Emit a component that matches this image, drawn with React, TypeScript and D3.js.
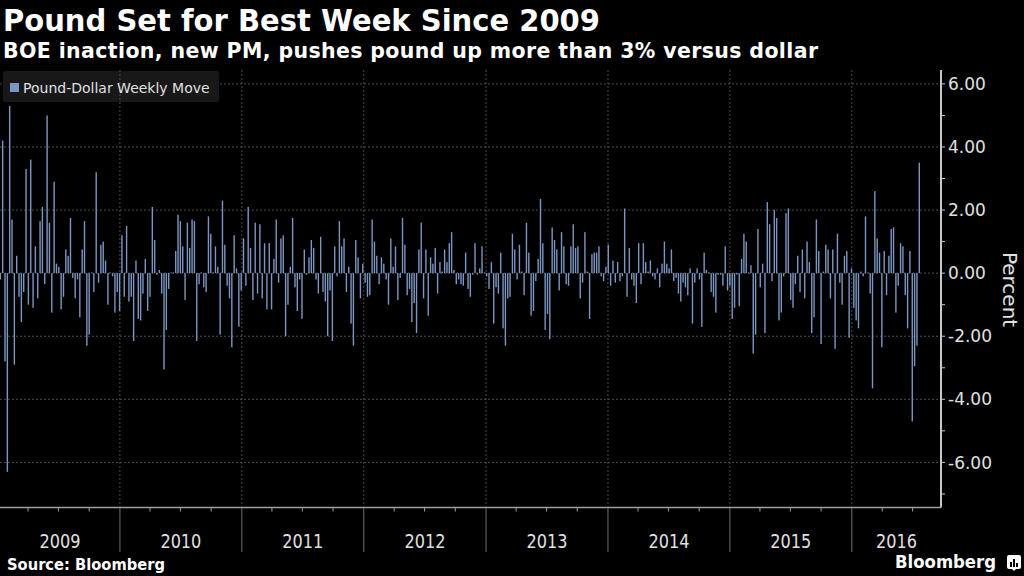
import * as d3 from "d3";

const TITLE = "Pound Set for Best Week Since 2009";
const SUBTITLE = "BOE inaction, new PM, pushes pound up more than 3% versus dollar";
const SERIES_NAME = "Pound-Dollar Weekly Move";
const SOURCE = "Source: Bloomberg";
const AXIS_TITLE = "Percent";

// weekly % move of GBP/USD, one value per Friday, starting Fri 2 Jan 2009
const moves2009 = [
  -0.2, 4.2, -2.8, -6.3, 5.3, 1.7, -2.9, 0.55, -0.75, -1.55,
  -0.6, 3.3, -1.0, 3.6, -1.1, 0.85, -0.8, 1.65, 2.1, -0.35,
  5.0, 1.6, -1.25, 2.9, 0.3, 0.2, -1.15, -0.75, 0.75, 0.55,
  1.75, -0.15, -0.8, -0.2, -1.4, 0.75, 1.65, -2.3, -1.95, 0.02,
  -0.6, 3.2, -0.3, 0.9, 1.0, 0.4, -1.0, 0.02, -0.1, -1.25,
  -0.6, -1.2,
];
const moves2010 = [
  1.2, -0.75, 1.5, -0.9, -0.75, -2.15, 0.4, -1.45, -1.5, -0.65,
  0.45, -1.2, -0.75, 2.1, 1.05, -0.05, 0.1, -0.65, -3.05, -1.8,
  -0.5, 0.02, 0.02, 0.7, 1.85, 1.65, 0.85, -0.85, 1.6, 0.8,
  1.7, 1.65, -2.15, -0.35, 0.02, -0.45, -0.6, 1.8, 1.25, 0.02,
  0.85, 0.2, -1.95, 2.3, 0.9, -0.4, -0.8, -2.35, 1.2, 0.15,
  -1.7, -0.55, 1.1,
];
const moves2011 = [
  -0.4, 2.1, 0.8, -0.85, 1.6, -0.65, 1.55, -0.8, 0.95, -1.15,
  0.95, -1.15, 0.45, 1.7, -0.3, 1.1, 1.2, -2.0, -1.0, 0.2,
  1.75, -0.45, -1.2, -0.2, -1.45, 0.75, -0.05, 0.5, 1.05, 0.8,
  -0.2, -0.65, 1.15, -0.6, -0.9, -2.0, -0.55, -2.15, 0.85, -0.1,
  1.65, 0.85, 1.1, -0.6, 0.2, -1.6, -2.3, 1.05, 0.5, -0.8,
  0.3, -0.3,
];
const moves2012 = [
  -0.75, -0.7, 1.7, 1.0, 0.55, -0.35, 0.5, 0.3, -0.2, -1.0,
  1.1, 0.2, 0.85, -0.85, -0.15, 1.75, 0.9, -0.7, -0.5, -1.55,
  -0.95, -1.9, 0.75, 1.6, -0.8, 0.75, -1.35, 0.5, 0.3, 0.8,
  -0.65, 0.35, 0.05, 0.75, 0.35, 0.95, 1.3, 0.1, -0.35, -0.2,
  -0.35, -0.4, 0.65, -0.5, -0.75, -0.05, 0.95, -0.05, 0.15, 0.85,
  0.02, -0.1,
];
const moves2013 = [
  -0.5, 0.35, -1.6, -0.45, -0.65, 0.65, -1.75, -2.3, -0.8, -0.75,
  1.25, 0.75, -0.2, 0.9, 0.05, -0.7, 1.6, 0.65, -1.35, -1.2,
  -0.25, 0.45, 2.35, 0.95, -1.8, -1.3, -2.1, 1.45, 1.05, 0.75,
  -0.55, 1.3, 0.85, -0.35, -0.4, 0.85, 1.55, 0.8, 0.85, -0.8,
  -0.3, 1.3, 0.05, -1.45, 0.6, 0.65, 0.65, 0.85, -0.1, -0.25,
  0.2, 0.9,
];
const moves2014 = [
  -0.4, 0.4, -0.3, 0.35, -0.25, -0.1, 2.05, -0.75, 0.8, -0.2,
  -0.4, -0.95, 0.95, -0.35, 0.95, 0.35, 0.05, 0.4, -0.1, -0.2,
  0.15, -0.45, 0.3, 1.0, 0.3, 0.15, 0.75, -0.25, -0.15, -0.65,
  -0.9, -0.3, -0.45, -0.7, 0.15, -1.6, -0.3, 0.15, -0.2, -1.7,
  0.65, 0.1, 0.02, -0.6, -0.75, -1.25, -0.05, -0.05, -0.4, 0.85,
  -0.55, -0.4,
];
const moves2015 = [
  -1.45, -1.1, -0.05, -1.05, 0.45, 1.25, 1.0, 0.02, 0.25, -2.55,
  -1.95, 1.4, -0.45, 0.3, -1.9, 2.25, 1.55, -0.25, 2.0, 1.75,
  -1.5, -1.25, -0.1, 1.9, 2.05, -0.85, -1.1, -0.35, 0.55, -0.6,
  0.75, -0.8, 1.0, 0.35, -1.9, -1.4, 1.7, 0.7, -2.25, 0.05,
  0.9, 0.75, -0.8, 0.75, -2.4, 1.25, -0.3, -1.0, 0.55, 0.7,
  -2.05, 0.15,
];
const moves2016 = [
  -1.1, -1.5, -1.75, 0.05, -0.1, 1.8, 0.02, -0.65, -3.65, 2.6,
  1.1, 0.65, -2.35, 0.7, -0.7, 0.55, 1.4, 1.45, -1.25, -0.4,
  0.95, 0.85, -0.7, -1.75, 0.7, -4.7, -2.95, -2.3, 3.5,
];

const yearLabels = ["2009", "2010", "2011", "2012", "2013", "2014", "2015", "2016"];
const yTicks = [6, 4, 2, 0, -2, -4, -6];

const W = 1024;
const H = 576;
const plotLeft = -2;
const plotRight = 941;
const plotTop = 70;
const plotBottom = 507.5;

const C = {
  bg: "#000000",
  bar: "#7b96c2",
  grid: "#4d4d4d",
  axis: "#c8c8c8",
  text: "#e0e0e0",
};

const firstWeek = new Date(2009, 0, 2);
const allMoves = [
  ...moves2009, ...moves2010, ...moves2011, ...moves2012,
  ...moves2013, ...moves2014, ...moves2015, ...moves2016,
];
const weeks = allMoves.map((v, i) => ({ date: d3.timeDay.offset(firstWeek, 7 * i), v }));

export default function App() {
  const x = d3
    .scaleTime()
    .domain([new Date(2009, 0, 1), new Date(2016, 8, 24)])
    .range([plotLeft, plotRight]);
  const y = d3.scaleLinear().domain([-7.43, 6.44]).range([plotBottom, plotTop]);

  const [d0, d1] = x.domain();
  const yearStarts = d3.timeYear.range(new Date(2010, 0, 1), d1);
  const quarters = d3.timeMonth.every(3)!.range(d0, d1).filter((d) => d.getMonth() !== 0);
  const minorTicks = d3.range(-7, 7);
  const barW = 1.4;
  const barShift = 2; // bloomberg draws the week bar a touch right of its date

  const years = yearLabels.map((label) => {
    const yr = +label;
    const s = new Date(yr, 0, 1) < d0 ? d0 : new Date(yr, 0, 1);
    const e = new Date(yr + 1, 0, 1) > d1 ? d1 : new Date(yr + 1, 0, 1);
    return { label, cx: (Math.max(0, x(s)) + x(e)) / 2 };
  });

  const font = "'DejaVu Sans', Verdana, sans-serif";
  const condensed = "'DejaVu Sans Condensed', 'DejaVu Sans', sans-serif";

  return (
    <svg
      width={W}
      height={H}
      style={{ position: "absolute", left: 0, top: 0, background: C.bg }}
    >
      <rect width={W} height={H} fill={C.bg} />

      {/* titles */}
      <text x={3} y={31} fill="#fff" fontFamily={font} fontWeight="bold" fontSize={29.5}
        textLength={597} lengthAdjust="spacingAndGlyphs">
        {TITLE}
      </text>
      <text x={3} y={58} fill="#fff" fontFamily={font} fontWeight="bold" fontSize={20.5}
        textLength={815} lengthAdjust="spacing">
        {SUBTITLE}
      </text>

      {/* horizontal grid */}
      {yTicks.map((t) => (
        <line key={t} x1={0} x2={plotRight} y1={y(t)} y2={y(t)}
          stroke={C.grid} strokeDasharray="2,2" />
      ))}

      {/* legend background */}
      <rect x={3} y={71} width={216} height={31} rx={2} fill="#181818" />

      {/* vertical year grid */}
      {yearStarts.map((d) => (
        <line key={+d} x1={x(d)} x2={x(d)} y1={plotTop} y2={plotBottom}
          stroke={C.grid} strokeDasharray="2,2" />
      ))}

      {/* bars */}
      <g fill={C.bar}>
        {weeks.map((w, i) => {
          const cx = x(w.date) + barShift;
          const top = y(Math.max(0, w.v));
          const h = Math.max(0.8, Math.abs(y(w.v) - y(0)));
          return <rect key={i} x={cx - barW / 2} y={top} width={barW} height={h} />;
        })}
      </g>

      {/* legend */}
      <rect x={10} y={83} width={9} height={9} fill={C.bar} />
      <text x={23} y={93} fill={C.text} fontFamily={font} fontSize={14}>
        {SERIES_NAME}
      </text>

      {/* y axis on the right */}
      <line x1={plotRight} x2={plotRight} y1={plotTop} y2={plotBottom} stroke={C.axis} strokeWidth={2} />
      {minorTicks.map((t) => (
        <line key={t} x1={plotRight} x2={plotRight + 4} y1={y(t)} y2={y(t)} stroke={C.axis} />
      ))}
      {yTicks.map((t) => (
        <text key={t} x={948} y={y(t)} dy="0.36em" fill={C.text} fontFamily={font} fontSize={17}>
          {t.toFixed(2)}
        </text>
      ))}
      <text
        transform={`translate(1003, ${y(-0.52)}) rotate(90)`}
        textAnchor="middle"
        fill={C.text}
        fontFamily={font}
        fontSize={20}
      >
        {AXIS_TITLE}
      </text>

      {/* x axis */}
      <line x1={0} x2={plotRight} y1={plotBottom} y2={plotBottom} stroke="#a0a0a0" strokeWidth={1.5} />
      {quarters.map((d) => (
        <line key={+d} x1={x(d)} x2={x(d)} y1={plotBottom} y2={plotBottom + 4} stroke="#a0a0a0" />
      ))}
      {yearStarts.map((d) => (
        <line key={+d} x1={x(d)} x2={x(d)} y1={plotBottom} y2={552} stroke="#707070" />
      ))}
      {years.map((yr) => (
        <text key={yr.label} x={yr.cx} y={548} textAnchor="middle" fill={C.text}
          fontFamily={condensed} fontStretch="condensed" fontSize={19.5}
          textLength={41} lengthAdjust="spacingAndGlyphs">
          {yr.label}
        </text>
      ))}

      {/* footer */}
      <text x={7} y={570} fill="#fff" fontFamily={font} fontWeight="bold" fontSize={15}
        textLength={158} lengthAdjust="spacingAndGlyphs">
        {SOURCE}
      </text>
      <text x={895} y={568} fill="#fff" fontFamily={condensed} fontStretch="condensed"
        fontWeight="bold" fontSize={18.5} textLength={101} lengthAdjust="spacingAndGlyphs">
        Bloomberg
      </text>
      <g transform="translate(1007, 555)">
        <path d="M0,2 Q0,0 2,0 H12 Q14,0 14,2 V12 Q14,14 12,14 H9 L7,16 L5,14 H2 Q0,14 0,12 Z" fill="#fff" />
        <rect x={3} y={7} width={2} height={5} fill="#000" />
        <rect x={6} y={4} width={2} height={8} fill="#000" />
        <rect x={9} y={8} width={2} height={4} fill="#000" />
      </g>
    </svg>
  );
}
